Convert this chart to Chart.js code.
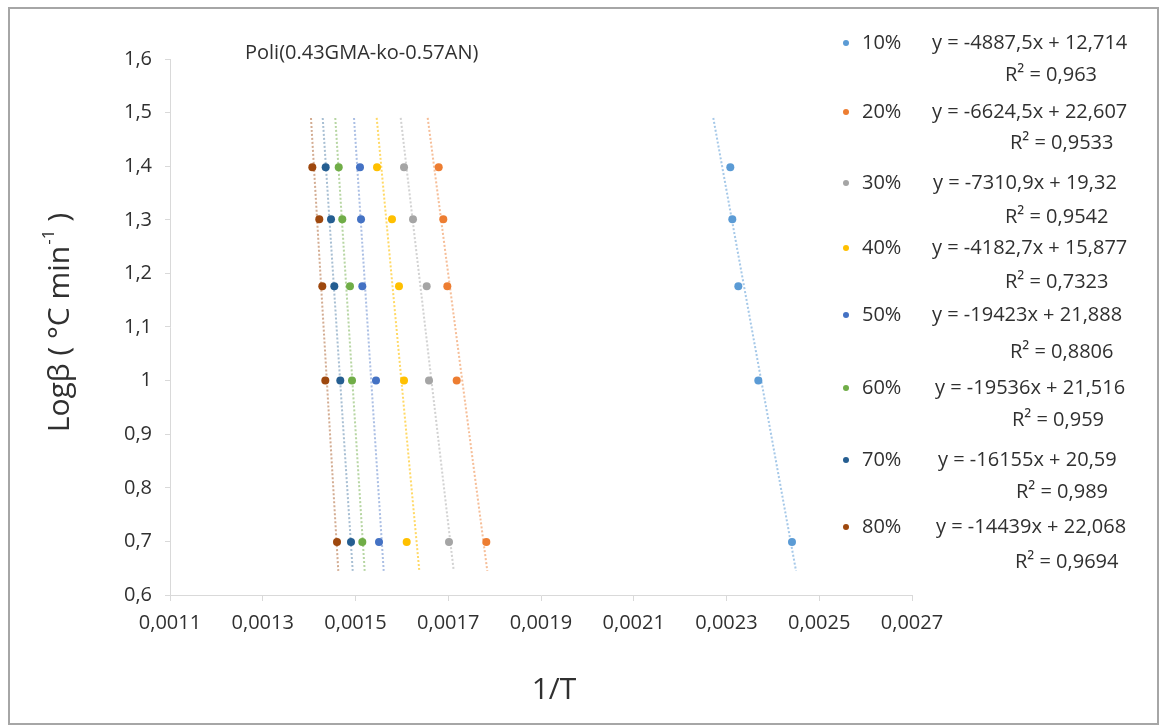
<!DOCTYPE html>
<html>
<head>
<meta charset="utf-8">
<script src="https://cdn.jsdelivr.net/npm/chart.js@4.4.0/dist/chart.umd.min.js"></script>
<style>
  html, body { margin: 0; padding: 0; background: #fff; }
  #wrap { width: 1163px; height: 727px; }
</style>
</head>
<body>
<div id="wrap"><canvas id="grafico" width="1163" height="727"></canvas></div>
<script>
// log of heating rate (5, 10, 15, 20, 25 °C/min), top to bottom
const logBeta = [1.398, 1.301, 1.176, 1.0, 0.699];

// 1/T for each conversion, same order as logBeta
const x10 = [0.0023082, 0.0023125, 0.0023255, 0.0023686, 0.0024412];
const x20 = [0.0016794, 0.0016893, 0.0016980, 0.0017182, 0.0017821];
const x30 = [0.0016046, 0.0016240, 0.0016535, 0.0016585, 0.0017016];
const x40 = [0.0015464, 0.0015787, 0.0015938, 0.0016046, 0.0016104];
const x50 = [0.0015097, 0.0015119, 0.0015147, 0.0015442, 0.0015507];
const x60 = [0.0014638, 0.0014715, 0.0014881, 0.0014925, 0.0015147];
const x70 = [0.0014357, 0.0014472, 0.0014543, 0.0014672, 0.0014903];
const x80 = [0.0014069, 0.0014219, 0.0014284, 0.0014349, 0.0014601];

// trendline ends (x at logBeta = trendYTop / trendYBottom)
const trendYTop = 1.49;
const trendYBottom = 0.645;
const trendXTop    = [0.0022715, 0.0016557, 0.0015975, 0.0015457, 0.0014968, 0.0014564, 0.0014293, 0.0014040];
const trendXBottom = [0.0024499, 0.0017842, 0.0017118, 0.0016376, 0.0015608, 0.0015198, 0.0014940, 0.0014629];

const labels = ["10%", "20%", "30%", "40%", "50%", "60%", "70%", "80%"];
const equations = [
  "y = -4887,5x + 12,714", "y = -6624,5x + 22,607", "y = -7310,9x + 19,32",
  "y = -4182,7x + 15,877", "y = -19423x + 21,888", "y = -19536x + 21,516",
  "y = -16155x + 20,59", "y = -14439x + 22,068"
];
const r2 = ["0,963", "0,9533", "0,9542", "0,7323", "0,8806", "0,959", "0,989", "0,9694"];

const xTicks = [0.0011, 0.0013, 0.0015, 0.0017, 0.0019, 0.0021, 0.0023, 0.0025, 0.0027];
const yTicks = [0.6, 0.7, 0.8, 0.9, 1.0, 1.1, 1.2, 1.3, 1.4, 1.5, 1.6];

const colores = ["#5B9BD5", "#ED7D31", "#A5A5A5", "#FFC000", "#4472C4", "#70AD47", "#255E91", "#9E480E"];
const colLinea = ["rgba(91,155,213,0.55)", "rgba(237,125,49,0.5)", "rgba(165,165,165,0.5)", "rgba(255,192,0,0.6)",
                  "rgba(68,114,196,0.45)", "rgba(112,173,71,0.5)", "rgba(37,94,145,0.4)", "rgba(158,72,14,0.45)"];

const xSeries = [x10, x20, x30, x40, x50, x60, x70, x80];
const FONT = "'Open Sans', sans-serif";
const TXT = "#303030";

const datasets = [];
xSeries.forEach((xs, i) => {
  datasets.push({
    label: labels[i],
    data: xs.map((x, k) => ({ x: x, y: logBeta[k] })),
    backgroundColor: colores[i],
    borderColor: colores[i],
    pointRadius: 4,
    pointBorderWidth: 0,
    showLine: false,
    order: 1
  });
  datasets.push({
    label: labels[i] + " trend",
    type: "line",
    data: [{ x: trendXTop[i], y: trendYTop }, { x: trendXBottom[i], y: trendYBottom }],
    borderColor: colLinea[i],
    borderWidth: 2,
    borderDash: [2, 2],
    pointRadius: 0,
    fill: false,
    order: 2
  });
});

// title, axis titles, legend with equations and frame
const extras = {
  id: "extras",
  afterDraw(chart) {
    const c = chart.ctx;
    c.save();
    c.fillStyle = TXT;
    c.textBaseline = "middle";

    c.font = "20px " + FONT;
    c.textAlign = "left";
    c.fillText("Poli(0.43GMA-ko-0.57AN)", 245, 53);

    c.font = "30px " + FONT;
    c.textAlign = "center";
    c.fillText("1/T", 554, 690);

    c.save();
    c.translate(60, 325);
    c.rotate(-Math.PI / 2);
    const w = c.measureText("Logβ ( °C min").width;
    c.fillText("Logβ ( °C min", -14, 0);
    c.textAlign = "left";
    c.font = "17px " + FONT;
    c.fillText("-1", -14 + w / 2 + 1, -11);
    const w2 = c.measureText("-1").width;
    c.font = "30px " + FONT;
    c.fillText(" )", -14 + w / 2 + 1 + w2, 0);
    c.restore();

    // legend rows
    const eqY = [43, 112, 183, 248, 315, 388, 460, 527];
    const rY  = [75, 143, 217, 282, 352, 420, 492, 562];
    const eqX = [932, 932, 933, 932, 932, 935, 938, 936];
    const rX  = [1005, 1010, 1005, 1005, 1010, 1012, 1016, 1015];
    c.textAlign = "left";
    labels.forEach((lab, i) => {
      c.fillStyle = colores[i];
      c.beginPath();
      c.arc(846, eqY[i], 3, 0, Math.PI * 2);
      c.fill();
      c.fillStyle = TXT;
      c.font = "20px " + FONT;
      c.fillText(lab, 862, eqY[i]);
      c.fillText(equations[i], eqX[i], eqY[i]);
      c.fillText("R² = " + r2[i], rX[i], rY[i]);
    });

    c.strokeStyle = "#a6a6a6";
    c.lineWidth = 2;
    c.strokeRect(9, 8, 1149, 716);
    c.restore();
  }
};

new Chart(document.getElementById("grafico").getContext("2d"), {
  type: "scatter",
  data: { datasets: datasets },
  plugins: [extras],
  options: {
    responsive: false,
    animation: false,
    devicePixelRatio: 1,
    layout: { padding: { top: 59, right: 251, left: 0, bottom: 0 } },
    plugins: { legend: { display: false }, tooltip: { enabled: false }, title: { display: false } },
    scales: {
      x: {
        type: "linear",
        min: 0.0011,
        max: 0.0027,
        afterBuildTicks: s => { s.ticks = xTicks.map(v => ({ value: v })); },
        afterFit: s => { s.height = 132; },
        grid: { drawOnChartArea: false, drawTicks: true, tickLength: 6, color: "#d9d9d9" },
        border: { display: true, color: "#d9d9d9", width: 1 },
        ticks: {
          padding: 10,
          color: TXT,
          font: { family: FONT, size: 20 },
          maxRotation: 0,
          autoSkip: false,
          callback: v => v.toFixed(4).replace(".", ",")
        }
      },
      y: {
        type: "linear",
        min: 0.6,
        max: 1.6,
        afterBuildTicks: s => { s.ticks = yTicks.map(v => ({ value: v })); },
        afterFit: s => { s.width = 170; },
        grid: { drawOnChartArea: false, drawTicks: true, tickLength: 5, color: "#d9d9d9" },
        border: { display: true, color: "#d9d9d9", width: 1 },
        ticks: {
          padding: 13,
          color: TXT,
          font: { family: FONT, size: 20 },
          autoSkip: false,
          callback: v => String(Math.round(v * 10) / 10).replace(".", ",")
        }
      }
    }
  }
});
</script>
</body>
</html>
